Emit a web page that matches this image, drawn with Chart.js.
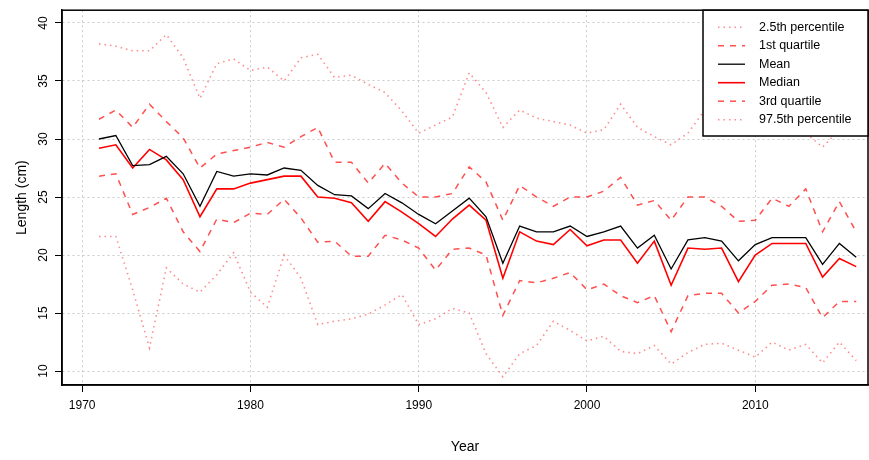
<!DOCTYPE html><html><head><script src="https://cdn.jsdelivr.net/npm/chart.js@4"></script>
<style>body{margin:0;background:#fff}#w{width:869px;height:460px}</style></head><body><div id="w"><canvas id="c"></canvas></div>
<script>
const years=[];for(let y=1971;y<=2016;y++)years.push(y);
const p025=[21.6,21.6,17.0,12.0,18.9,17.5,16.8,18.3,20.2,16.8,15.5,20.0,18.0,14.0,14.3,14.5,14.9,15.7,16.6,14.0,14.5,15.4,15.0,11.5,9.5,11.5,12.2,14.3,13.5,12.6,13.0,11.7,11.5,12.2,10.6,11.6,12.3,12.4,11.8,11.2,12.5,11.8,12.3,10.7,12.5,10.9];
const q1=[26.8,27.0,23.5,24.1,24.9,22.0,20.3,23.1,22.8,23.6,23.5,24.8,23.2,21.1,21.2,19.9,19.9,21.7,21.3,20.6,18.7,20.5,20.6,20.0,14.8,17.8,17.6,18.0,18.5,17.0,17.5,16.5,15.9,16.5,13.4,16.5,16.7,16.7,15.0,16.0,17.4,17.5,17.2,14.6,16.0,16.0];
const mean=[30.0,30.3,27.7,27.8,28.5,27.0,24.2,27.2,26.8,27.0,26.9,27.5,27.3,26.0,25.2,25.1,24.0,25.3,24.5,23.5,22.7,23.8,24.9,23.3,19.3,22.5,22.0,22.0,22.5,21.6,22.0,22.5,20.6,21.7,18.8,21.3,21.5,21.2,19.5,20.9,21.5,21.5,21.5,19.2,21.0,19.8];
const median=[29.2,29.5,27.5,29.1,28.2,26.5,23.3,25.7,25.7,26.2,26.5,26.8,26.8,25.0,24.9,24.5,22.9,24.6,23.7,22.7,21.6,23.1,24.3,23.0,18.0,22.0,21.2,20.9,22.2,20.8,21.3,21.3,19.3,21.2,17.4,20.6,20.5,20.6,17.7,20.0,21.0,21.0,21.0,18.1,19.7,19.0];
const q3=[31.7,32.5,31.0,33.0,31.5,30.1,27.5,28.7,29.0,29.3,29.7,29.3,30.2,31.0,28.0,28.0,26.2,27.9,26.2,25.0,25.0,25.3,27.6,26.3,23.0,26.0,25.0,24.2,25.0,25.0,25.5,26.7,24.3,24.7,23.0,25.0,25.0,24.2,22.9,23.0,24.9,24.2,25.7,22.0,24.6,22.0];
const p975=[38.2,38.0,37.6,37.6,39.0,37.0,33.5,36.5,36.9,35.9,36.2,35.0,37.0,37.3,35.3,35.5,34.7,34.0,32.4,30.5,31.2,31.9,35.7,34.0,31.0,32.5,31.8,31.5,31.2,30.5,30.8,33.0,31.0,30.2,29.5,30.5,32.5,32.0,31.5,32.0,32.0,31.0,30.5,29.3,30.8,31.0];
const xTicks=[1970,1980,1990,2000,2010];
const yTicks=[10,15,20,25,30,35,40];
const pink='rgba(255,140,140,1)',red='#ff0000',dash='rgba(255,60,60,0.9)';
function ds(label,data,color,dashArr,w){return{label,data:years.map((y,i)=>({x:y,y:data[i]})),borderColor:color,borderDash:dashArr,borderWidth:w,pointRadius:0,fill:false,tension:0};}
const sets=[ds('2.5th percentile',p025,pink,[1.5,4],1.6),ds('1st quartile',q1,dash,[6,6],1.5),ds('Mean',mean,'#000',[],1.3),ds('Median',median,red,[],1.6),ds('3rd quartile',q3,dash,[6,6],1.5),ds('97.5th percentile',p975,pink,[1.5,4],1.6)];
const F='"Liberation Sans", Arial, sans-serif';
const extras={id:'extras',afterDraw(c){const a=c.chartArea,x=c.ctx;x.save();x.strokeStyle='#000';x.lineWidth=1.5;x.strokeRect(a.left,a.top,a.right-a.left,a.bottom-a.top);
x.fillStyle='#000';x.font='12px '+F;x.textAlign='center';x.textBaseline='bottom';const ys=c.scales.y;
yTicks.forEach(v=>{const py=ys.getPixelForValue(v);x.save();x.translate(a.left-12,py);x.rotate(-Math.PI/2);x.fillText(String(v),0,0);x.restore();});
x.font='14px '+F;x.save();x.translate(22,(a.top+a.bottom)/2);x.rotate(-Math.PI/2);x.textBaseline='middle';x.fillText('Length (cm)',0,0);x.restore();
x.textBaseline='middle';x.fillText('Year',(a.left+a.right)/2,447);
const L=703,T=a.top,R=a.right,B=136;x.fillStyle='#fff';x.fillRect(L,T,R-L,B-T);x.strokeRect(L,T,R-L,B-T);
x.font='12.5px '+F;x.textAlign='left';
sets.forEach((s,i)=>{const yy=T+17+i*18.5;x.strokeStyle=s.borderColor;x.lineWidth=s.borderWidth;x.setLineDash(s.borderDash);x.beginPath();x.moveTo(718,yy);x.lineTo(745,yy);x.stroke();x.setLineDash([]);x.fillStyle='#000';x.fillText(s.label,759,yy);});
x.restore();}};
new Chart(document.getElementById('c'),{type:'line',data:{datasets:sets},plugins:[extras],options:{responsive:true,maintainAspectRatio:false,animation:false,layout:{padding:{top:9,right:1,left:0,bottom:0}},
plugins:{legend:{display:false},tooltip:{enabled:false}},
scales:{x:{type:'linear',min:1968.8,max:2016.7,afterBuildTicks(s){s.ticks=xTicks.map(v=>({value:v}));},afterFit(s){s.height=75;},
grid:{color:'rgba(190,190,190,0.8)',lineWidth:1,tickColor:'#000',tickLength:7,drawTicks:true},border:{display:true,color:'#000',width:1.5,dash:[2,3]},
ticks:{color:'#000',font:{family:F,size:12},padding:6,maxRotation:0,callback:v=>String(v)}},
y:{min:8.8,max:41.1,afterBuildTicks(s){s.ticks=yTicks.map(v=>({value:v}));},afterFit(s){s.width=62;},
grid:{color:'rgba(190,190,190,0.8)',tickColor:'#000',tickLength:7},border:{display:true,color:'#000',width:1.5,dash:[2,3]},ticks:{display:true,color:'rgba(0,0,0,0)',font:{size:12}}}}}});
</script></body></html>
